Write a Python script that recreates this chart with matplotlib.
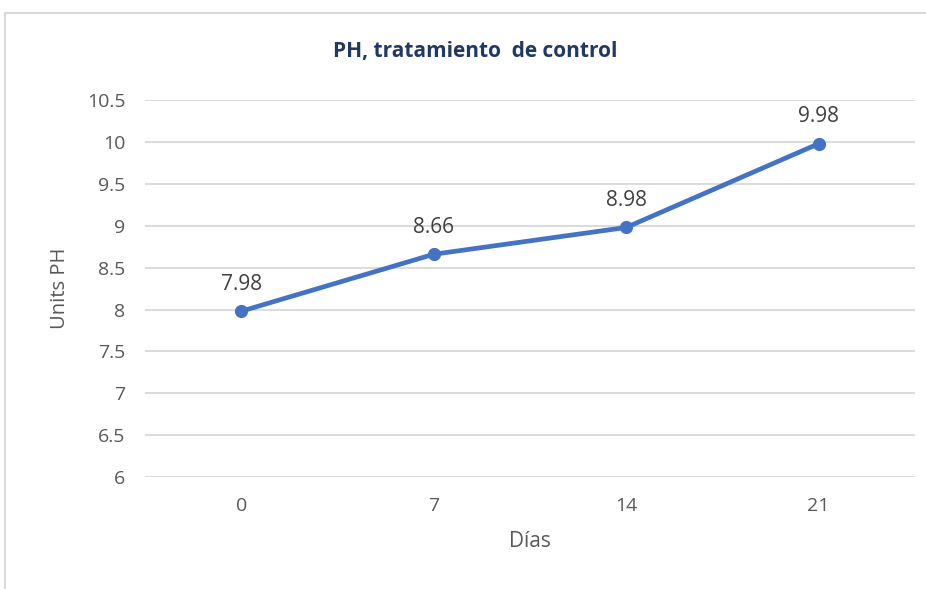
import matplotlib.pyplot as plt
from matplotlib.lines import Line2D

dias = ['0', '7', '14', '21']
ph = [7.98, 8.66, 8.98, 9.98]
yticks = [6, 6.5, 7, 7.5, 8, 8.5, 9, 9.5, 10, 10.5]
ytick_labels = ['6', '6.5', '7', '7.5', '8', '8.5', '9', '9.5', '10', '10.5']

plt.rcParams['font.family'] = ['Open Sans', 'DejaVu Sans']

fig = plt.figure(figsize=(9.26, 5.89), dpi=100)
ax = fig.add_axes([0.1566, 0.190, 0.8314, 0.640])

x = list(range(len(dias)))
ax.plot(x, ph, color='#4472C4', linewidth=3.4, marker='o', markersize=8.5,
        solid_capstyle='round', zorder=3)
for xi, v in zip(x, ph):
    ax.annotate(f'{v:g}', (xi, v), xytext=(0, 12), textcoords='offset points',
                ha='center', va='bottom', fontsize=15, color='#404040')

ax.set_xlim(-0.5, len(dias) - 0.5)
ax.set_ylim(6, 10.5)
ax.set_xticks(x)
ax.set_xticklabels(dias)
ax.set_yticks(yticks)
ax.set_yticklabels(ytick_labels)
ax.tick_params(length=0, labelsize=14, colors='#595959')
ax.tick_params(axis='x', pad=14)
ax.tick_params(axis='y', pad=14)
ax.grid(axis='y', color='#D9D9D9', linewidth=1.3)
for s in ax.spines.values():
    s.set_visible(False)

ax.set_xlabel('Días', fontsize=15, color='#595959', labelpad=12)
ax.set_ylabel('Units PH', fontsize=14.5, color='#595959', labelpad=12)
fig.text(0.513, 0.912, 'PH, tratamiento  de control', ha='center', va='center',
         fontsize=15, fontweight='bold', color='#1F3864')

# chart frame (top and left edges visible)
fig.add_artist(Line2D([5 / 926, 1.0], [1 - 13 / 589, 1 - 13 / 589],
                      transform=fig.transFigure, color='#D9D9D9', linewidth=1.5))
fig.add_artist(Line2D([5 / 926, 5 / 926], [0, 1 - 13 / 589],
                      transform=fig.transFigure, color='#D9D9D9', linewidth=1.5))

fig.savefig('out.png', dpi=100)
